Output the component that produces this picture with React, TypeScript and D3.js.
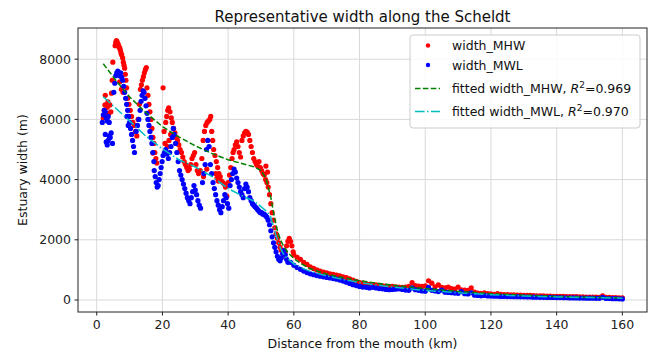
import React from "react";
import * as d3 from "d3";

// Measured estuary widths (distance from mouth in km, width in m)
const widthMHW: [number, number][] = [
  [2.0, 6050], [2.3, 6300], [2.5, 6480], [2.6, 6800], [2.9, 6150], [3.2, 6400], [3.4, 6580], [3.7, 6200],
  [4.0, 6480], [4.3, 6250], [4.5, 6870], [4.7, 7300], [4.9, 7900],
  [5.6, 8450], [5.8, 8560], [6.0, 8620], [6.2, 8580], [6.4, 8520], [6.6, 8480], [6.8, 8400], [7.0, 8380],
  [7.2, 8300], [7.4, 8200], [7.6, 8140], [7.9, 8040], [8.1, 7900], [8.3, 7800], [8.5, 7700], [8.7, 7500],
  [8.9, 7300], [9.1, 7050], [7.0, 7250], [7.5, 7000], [8.0, 6900],
  [9.4, 6700], [9.8, 6500], [10.2, 6300], [10.6, 6100], [11.0, 5900], [11.4, 5800], [11.8, 5600], [12.2, 5450],
  [12.6, 6000], [13.0, 6500], [13.3, 7000], [13.6, 7150], [13.9, 7300], [14.2, 7420], [14.5, 7550], [14.8, 7650],
  [15.1, 7720], [15.3, 7050], [15.6, 6800], [15.9, 6500], [16.2, 6250], [16.5, 6000], [16.8, 5700], [17.1, 5400],
  [17.4, 5200], [17.7, 4900], [18.0, 4700], [18.3, 4550], [17.1, 4880], [20.2, 7050],
  [20.5, 5600], [21.0, 5900], [21.3, 6100], [21.6, 6300], [21.9, 6380], [22.3, 6250], [22.7, 6050], [23.0, 5900],
  [23.4, 5700], [23.8, 5550], [24.2, 5400], [20.8, 5200], [21.5, 5100], [22.0, 5300], [22.5, 5500],
  [24.6, 5300], [25.0, 5150], [25.4, 5000], [25.8, 4900], [26.2, 4750], [26.6, 4600], [27.0, 4500], [27.4, 4400],
  [27.8, 4300], [28.2, 4350], [28.6, 4500], [29.0, 4700], [29.4, 4800], [29.8, 4900], [30.2, 4500], [30.6, 4300],
  [31.0, 4200], [31.5, 4300], [32.0, 4700], [32.4, 5300], [32.8, 5600], [33.2, 5800], [33.6, 5900], [34.0, 5950],
  [34.4, 6000], [34.7, 6100], [35.0, 5600], [35.3, 5300], [35.6, 5000], [32.5, 4100], [33.5, 4350],
  [36.0, 4800], [36.4, 4600], [36.8, 4400], [37.2, 4200], [37.6, 4100], [38.0, 3950], [38.4, 3900], [38.8, 3850],
  [39.2, 3750], [39.6, 3450], [36.2, 4200], [36.6, 4050], [37.0, 3950],
  [40.0, 3900], [40.4, 4150], [40.8, 4400], [41.2, 4700], [41.5, 4900], [41.8, 5000], [42.2, 5150], [42.6, 5250],
  [43.0, 5100], [43.4, 4900], [43.8, 4750], [44.2, 5300], [44.6, 5450], [45.0, 5550], [45.4, 5600], [45.8, 5580],
  [46.2, 5500], [46.6, 5300], [47.0, 5100], [47.4, 4900], [47.8, 4700], [48.2, 4600], [48.6, 4500], [49.0, 4450],
  [49.4, 4600], [49.8, 4400], [50.2, 4300], [50.6, 4200], [51.0, 4150], [51.4, 4000], [51.8, 3900], [52.2, 3750],
  [51.5, 4450], [52.0, 4250], [52.6, 3500], [53.0, 3200], [53.4, 2900], [53.8, 2650], [54.2, 2400], [54.6, 2200],
  [55.0, 2050], [55.4, 1900], [55.8, 1750], [56.2, 1650], [56.6, 1550], [57.0, 1500], [57.4, 1600], [57.8, 1800],
  [58.2, 1950], [58.6, 2050], [59.0, 1950], [59.4, 1800], [59.8, 1600],
  [60, 1500], [61, 1420], [62, 1350], [63, 1250], [64, 1180], [65, 1100], [66, 1050], [67, 1000], [68, 960],
  [69, 930], [70, 900], [71, 870], [72, 850], [73, 830], [74, 800], [75, 770], [76, 740], [77, 700], [78, 660],
  [79, 620], [80, 580], [81, 560], [82, 540], [83, 520], [84, 510], [85, 500], [86, 490], [87, 470], [88, 460],
  [89, 450], [90, 450], [91, 440], [92, 430], [93, 420], [94, 430], [95, 450], [96, 580], [97, 480], [98, 460],
  [99, 450], [100, 470], [101, 640], [102, 560], [103, 440], [104, 500], [105, 420], [106, 400], [107, 430],
  [108, 380], [109, 360], [110, 430], [111, 340], [112, 330], [113, 320], [114, 400], [115, 260], [116, 230],
  [117, 220], [118, 240], [119, 210], [120, 200], [121, 190], [122, 210], [123, 190], [124, 180], [125, 175],
  [126, 170], [127, 170], [128, 165], [129, 160], [130, 155], [131, 150], [132, 150], [133, 145], [134, 140],
  [135, 140], [136, 135], [137, 130], [138, 130], [139, 125], [140, 125], [141, 120], [142, 120], [143, 115],
  [144, 115], [145, 110], [146, 110], [147, 105], [148, 105], [149, 100], [150, 100], [151, 95], [152, 95],
  [153, 90], [154, 140], [155, 90], [156, 85], [157, 80], [158, 80], [159, 75], [160, 70],
];

const widthMWL: [number, number][] = [
  [1.7, 5900], [2.0, 6150], [2.3, 6300], [2.6, 6250], [2.9, 6050], [3.2, 5950], [3.5, 6100], [3.8, 5900],
  [2.6, 5500], [2.9, 5250], [3.2, 5150], [3.5, 5300], [3.8, 5450], [4.1, 5400], [4.4, 5550], [4.8, 5200],
  [5.2, 6900], [5.5, 7200], [5.8, 7450], [6.1, 7550], [6.4, 7600], [6.7, 7500], [7.0, 7450], [7.3, 7550],
  [7.6, 7400], [7.9, 7300], [8.2, 7100], [8.5, 6900], [8.8, 6700], [9.1, 6500], [9.4, 6300], [9.7, 6100],
  [10.0, 5900], [10.3, 5700], [10.6, 5500], [10.9, 5300], [11.2, 5100], [11.5, 4900], [9.2, 6100], [9.6, 5800],
  [12.0, 5600], [12.4, 5800], [12.8, 6000], [13.2, 6300], [13.5, 6600], [13.8, 6800], [14.1, 6950], [14.4, 6900],
  [14.7, 6700], [15.0, 6450], [15.3, 6200], [15.6, 6000], [15.9, 5800], [16.2, 5600], [16.5, 5400], [16.8, 5200],
  [17.1, 4900], [17.4, 4600], [17.5, 4300], [17.8, 4100], [18.1, 3900], [18.4, 3750], [18.7, 3800], [19.0, 4000],
  [19.3, 4200], [19.6, 4400], [19.9, 4600], [20.2, 4800], [20.6, 4900], [21.0, 5000], [21.4, 4850], [21.8, 4700],
  [22.2, 4900], [22.6, 5100], [23.0, 5400], [23.3, 5700], [23.6, 5500], [24.0, 5200], [24.4, 4900], [24.8, 4600],
  [25.2, 4300], [25.6, 4150], [26.0, 4000], [26.4, 3850], [26.8, 3700], [27.2, 3550], [27.6, 3400], [28.0, 3300],
  [28.4, 3200], [28.8, 3400], [29.2, 3600], [29.6, 3800], [30.0, 3650], [30.4, 3500], [30.8, 3300], [31.2, 3150],
  [31.6, 3050], [32.2, 3900], [32.6, 4200], [33.0, 4500], [33.4, 5000], [33.8, 5300], [34.2, 5100], [34.6, 4500],
  [35.0, 4200], [35.4, 3900], [35.8, 3700], [36.2, 3500], [36.6, 3300], [37.0, 3150], [37.4, 3000], [37.8, 2900],
  [38.2, 3100], [38.6, 3300], [39.0, 3500], [39.4, 3400], [39.8, 3200], [40.2, 3050], [40.6, 3800], [41.0, 4000],
  [41.4, 4200], [41.8, 4350], [42.2, 4250], [42.6, 4050], [43.0, 3900], [43.4, 3750], [43.8, 3600], [44.2, 3500],
  [44.6, 3400], [45.0, 3700], [45.4, 3850], [45.8, 3750], [46.2, 3600], [46.6, 3400], [47.0, 3300], [47.4, 3200],
  [47.8, 3150], [48.2, 3100], [48.6, 3050], [49.0, 3000], [49.4, 2950], [49.8, 2900], [50.2, 2900], [50.6, 2850],
  [51.0, 2850], [51.4, 2800], [51.8, 2750], [52.2, 2650], [52.6, 2500], [53.0, 2300], [53.4, 2100], [53.8, 1900],
  [54.2, 1750], [54.6, 1600], [55.0, 1450], [55.4, 1350], [55.8, 1300], [56.2, 1400], [56.6, 1550], [57.0, 1650],
  [57.4, 1500], [57.8, 1350], [58.2, 1250],
  [59, 1250], [60, 1150], [61, 1080], [62, 1020], [63, 960], [64, 910], [65, 870], [66, 840], [67, 810], [68, 790],
  [69, 770], [70, 750], [71, 730], [72, 710], [73, 690], [74, 660], [75, 630], [76, 590], [77, 550], [78, 510],
  [79, 480], [80, 450], [81, 430], [82, 420], [83, 400], [84, 420], [85, 400], [86, 380], [87, 370], [88, 350],
  [89, 340], [90, 350], [91, 360], [92, 370], [93, 350], [94, 330], [95, 320], [96, 400], [97, 340], [98, 320],
  [99, 300], [100, 290], [101, 420], [102, 320], [103, 300], [104, 280], [105, 330], [106, 260], [107, 250],
  [108, 240], [109, 230], [110, 220], [111, 280], [112, 210], [113, 200], [114, 240], [115, 160], [116, 150],
  [117, 140], [118, 150], [119, 135], [120, 130], [121, 125], [122, 125], [123, 120], [124, 120], [125, 115],
  [126, 115], [127, 110], [128, 110], [129, 105], [130, 105], [131, 100], [132, 100], [133, 95], [134, 95],
  [135, 90], [136, 90], [137, 85], [138, 85], [139, 85], [140, 80], [141, 80], [142, 75], [143, 75], [144, 70],
  [145, 70], [146, 70], [147, 65], [148, 65], [149, 60], [150, 60], [151, 60], [152, 55], [153, 55], [154, 90],
  [155, 50], [156, 50], [157, 45], [158, 45], [159, 40], [160, 35],
];

// Fitted width curves
const fitMHW: [number, number][] = [
  [2, 7850], [6, 7270], [10, 6750], [15, 6220], [20, 5760], [25, 5420], [30, 5120], [35, 4870], [40, 4660],
  [45, 4510], [48, 4420], [50, 4300], [51.5, 4050], [53, 3400], [54, 2800], [55, 2300], [56, 1980], [57, 1760],
  [58.5, 1540], [60, 1380], [62, 1220], [65, 1040], [70, 860], [75, 740], [80, 640], [85, 565], [90, 495],
  [95, 435], [100, 380], [105, 330], [110, 285], [115, 245], [120, 210], [130, 160], [140, 120], [150, 92], [160, 70],
];

const fitMWL: [number, number][] = [
  [2, 6750], [5, 6450], [10, 5950], [15, 5440], [20, 5020], [25, 4660], [30, 4420], [35, 4110], [40, 3700],
  [45, 3420], [48, 3280], [50, 3100], [52, 2920], [53, 2750], [54, 2350], [55, 2000], [56, 1700], [57, 1500],
  [58, 1380], [60, 1200], [62, 1080], [65, 950], [70, 800], [75, 680], [80, 580], [85, 500], [90, 430],
  [95, 370], [100, 320], [105, 280], [110, 240], [115, 205], [120, 175], [130, 130], [140, 100], [150, 80], [160, 60],
];

const xTicks = [0, 20, 40, 60, 80, 100, 120, 140, 160];
const yTicks = [0, 2000, 4000, 6000, 8000];

const W = 654;
const H = 353;
const plot = { left: 78, right: 647, top: 28, bottom: 312 };
const FONT = "'DejaVu Sans', sans-serif";

export default function App() {
  const x = d3.scaleLinear().domain([-5.7, 167.5]).range([plot.left, plot.right]);
  const y = d3.scaleLinear().domain([-399, 9036]).range([plot.bottom, plot.top]);
  const line = d3
    .line<[number, number]>()
    .x((d) => x(d[0]))
    .y((d) => y(d[1]));

  const legendX = 410;
  const legendY = 35;
  const rows = [45.5, 65, 88.5, 111.5];

  return (
    <svg
      width={W}
      height={H}
      style={{ position: "absolute", left: 0, top: 0, background: "#fff" }}
      fontFamily={FONT}
    >
      <rect x={0} y={0} width={W} height={H} fill="#fff" />
      <defs>
        <clipPath id="plotArea">
          <rect x={plot.left} y={plot.top} width={plot.right - plot.left} height={plot.bottom - plot.top} />
        </clipPath>
      </defs>

      {/* grid */}
      {xTicks.map((t) => (
        <line key={"gx" + t} x1={x(t)} x2={x(t)} y1={plot.top} y2={plot.bottom} stroke="#d9d9d9" strokeWidth={1} />
      ))}
      {yTicks.map((t) => (
        <line key={"gy" + t} x1={plot.left} x2={plot.right} y1={y(t)} y2={y(t)} stroke="#d9d9d9" strokeWidth={1} />
      ))}

      <g clipPath="url(#plotArea)">
        {widthMHW.map((d, i) => (
          <circle key={"r" + i} cx={x(d[0])} cy={y(d[1])} r={2.6} fill="#ff0000" />
        ))}
        {widthMWL.map((d, i) => (
          <circle key={"b" + i} cx={x(d[0])} cy={y(d[1])} r={2.6} fill="#0000ff" />
        ))}
        <path d={line(fitMHW) ?? ""} fill="none" stroke="#008000" strokeWidth={1.5} strokeDasharray="5.5,2.4" />
        <path d={line(fitMWL) ?? ""} fill="none" stroke="#00bfbf" strokeWidth={1.5} strokeDasharray="9.6,2.4,1.5,2.4" />
      </g>

      {/* spines */}
      <rect
        x={plot.left}
        y={plot.top}
        width={plot.right - plot.left}
        height={plot.bottom - plot.top}
        fill="none"
        stroke="#222"
        strokeWidth={1}
      />

      {/* x axis ticks */}
      {xTicks.map((t) => (
        <g key={"xt" + t}>
          <line x1={x(t)} x2={x(t)} y1={plot.bottom} y2={plot.bottom + 3.5} stroke="#222" />
          <text x={x(t)} y={plot.bottom + 17} textAnchor="middle" fontSize={12.5} fill="#222">
            {t}
          </text>
        </g>
      ))}
      {/* y axis ticks */}
      {yTicks.map((t) => (
        <g key={"yt" + t}>
          <line x1={plot.left - 3.5} x2={plot.left} y1={y(t)} y2={y(t)} stroke="#222" />
          <text x={plot.left - 7} y={y(t) + 4.5} textAnchor="end" fontSize={12.5} fill="#222">
            {t}
          </text>
        </g>
      ))}

      <text x={(plot.left + plot.right) / 2} y={21.5} textAnchor="middle" fontSize={15} fill="#111">
        Representative width along the Scheldt
      </text>
      <text x={(plot.left + plot.right) / 2} y={348} textAnchor="middle" fontSize={12.5} fill="#111">
        Distance from the mouth (km)
      </text>
      <text
        transform={`translate(27, ${(plot.top + plot.bottom) / 2}) rotate(-90)`}
        textAnchor="middle"
        fontSize={12.5}
        fill="#111"
      >
        Estuary width (m)
      </text>

      {/* legend */}
      <rect
        x={legendX}
        y={legendY}
        width={230}
        height={93}
        rx={3}
        fill="#fff"
        fillOpacity={0.85}
        stroke="#cccccc"
        strokeWidth={1}
      />
      <circle cx={428} cy={rows[0]} r={2.2} fill="#ff0000" />
      <text x={452} y={rows[0] + 4.5} fontSize={12.5} fill="#111">width_MHW</text>
      <circle cx={428} cy={rows[1]} r={2.2} fill="#0000ff" />
      <text x={452} y={rows[1] + 4.5} fontSize={12.5} fill="#111">width_MWL</text>
      <line x1={415} x2={440} y1={rows[2]} y2={rows[2]} stroke="#008000" strokeWidth={1.5} strokeDasharray="5.5,2.4" />
      <text x={452} y={rows[2] + 4.5} fontSize={12.5} fill="#111">
        fitted width_MHW, <tspan fontStyle="italic">R</tspan>
        <tspan fontSize={9} dy={-5}>2</tspan>
        <tspan dy={5}>=0.969</tspan>
      </text>
      <line x1={415} x2={440} y1={rows[3]} y2={rows[3]} stroke="#00bfbf" strokeWidth={1.5} strokeDasharray="9.6,2.4,1.5,2.4" />
      <text x={452} y={rows[3] + 4.5} fontSize={12.5} fill="#111">
        fitted width_MWL, <tspan fontStyle="italic">R</tspan>
        <tspan fontSize={9} dy={-5}>2</tspan>
        <tspan dy={5}>=0.970</tspan>
      </text>
    </svg>
  );
}
